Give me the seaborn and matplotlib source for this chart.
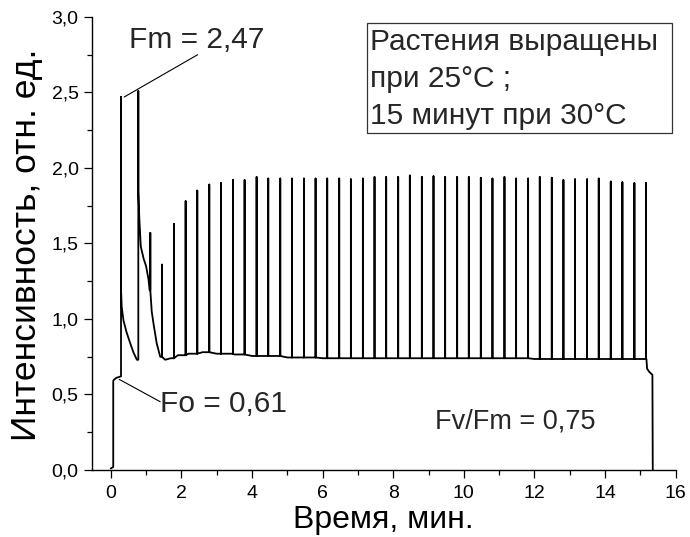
import numpy as np
import pandas as pd
import matplotlib
matplotlib.use("Agg")
import matplotlib.pyplot as plt
from matplotlib.patches import Rectangle
from matplotlib.ticker import MultipleLocator, FuncFormatter
import seaborn as sns

# Slow fluorescence baseline (time in min, relative intensity), with the two
# step changes where the first saturating flashes fall back onto the decay.
base_t = [0.00, 0.07, 0.07, 0.10, 0.16, 0.22, 0.29, 0.29, 0.31, 0.36, 0.45,
          0.55, 0.64, 0.74, 0.78, 0.78, 0.81, 0.85, 0.93, 1.00, 1.07, 1.10,
          1.16, 1.21, 1.30, 1.40, 1.54, 1.70, 1.90, 2.20, 2.60, 3.00, 3.50,
          4.00, 5.00, 6.00, 8.00, 10.00, 12.00, 14.00, 15.17, 15.19, 15.25,
          15.34, 15.35]
base_v = [0.01, 0.02, 0.59, 0.60, 0.61, 0.615, 0.62, 1.20, 1.08, 0.99, 0.91,
          0.84, 0.78, 0.73, 0.73, 1.85, 1.66, 1.48, 1.40, 1.35, 1.26, 1.19,
          1.05, 0.97, 0.84, 0.75, 0.73, 0.74, 0.76, 0.77, 0.78, 0.77, 0.765,
          0.755, 0.745, 0.74, 0.74, 0.74, 0.735, 0.735, 0.735, 0.67, 0.65,
          0.63, 0.00]

# Saturating flashes: times (min) and peak intensities
flash_t = [0.29, 0.78, 1.12, 1.45, 1.79, 2.12, 2.45, 2.79, 3.12, 3.46, 3.79,
           4.13, 4.46, 4.80, 5.13, 5.47, 5.80, 6.13, 6.47, 6.80, 7.14, 7.47,
           7.80, 8.14, 8.47, 8.81, 9.14, 9.47, 9.81, 10.14, 10.48, 10.81,
           11.15, 11.48, 11.82, 12.15, 12.49, 12.82, 13.15, 13.49, 13.82,
           14.16, 14.49, 14.83, 15.16]
flash_v = [2.47, 2.51, 1.57, 1.36, 1.63, 1.78, 1.85, 1.89, 1.90, 1.92, 1.92,
           1.94, 1.93, 1.93, 1.93, 1.93, 1.93, 1.93, 1.93, 1.925, 1.93, 1.94,
           1.94, 1.94, 1.95, 1.94, 1.945, 1.94, 1.94, 1.94, 1.935, 1.93, 1.94,
           1.93, 1.93, 1.94, 1.935, 1.92, 1.925, 1.925, 1.93, 1.91, 1.905,
           1.90, 1.90]

x_ticks = [0, 2, 4, 6, 8, 10, 12, 14, 16]
y_ticks = [0.0, 0.5, 1.0, 1.5, 2.0, 2.5, 3.0]

x_label = "Время, мин."
y_label = "Интенсивность, отн. ед."
fm_label = "Fm = 2,47"
fo_label = "Fo = 0,61"
ratio_label = "Fv/Fm = 0,75"
box_lines = ["Растения выращены", "при 25°C ;", "15 минут при 30°C"]

# Build one continuous trace: each flash is a vertical excursion from the
# last baseline level before it.
trace_t, trace_v = [], []
fi = 0
for i, (t, v) in enumerate(zip(base_t, base_v)):
    trace_t.append(t)
    trace_v.append(v)
    nxt = base_t[i + 1] if i + 1 < len(base_t) else np.inf
    while fi < len(flash_t) and t <= flash_t[fi] < nxt:
        trace_t += [flash_t[fi], flash_t[fi], flash_t[fi]]
        trace_v += [v, flash_v[fi], v]
        fi += 1
trace = pd.DataFrame({"t": trace_t, "v": trace_v})

sns.set_theme(style="ticks")
plt.rcParams["font.family"] = ["Liberation Sans", "DejaVu Sans"]

fig = plt.figure(figsize=(6.9, 5.37), dpi=100)
ax = fig.add_axes([0.1329, 0.1248, 0.8464, 0.8436])

sns.lineplot(data=trace, x="t", y="v", sort=False, estimator=None,
             color="black", linewidth=1.3, ax=ax)

ax.set_xlim(-0.54, 16.0)
ax.set_ylim(0.0, 3.0)
ax.set_xticks(x_ticks)
ax.set_yticks(y_ticks)
ax.xaxis.set_minor_locator(MultipleLocator(1))
ax.yaxis.set_minor_locator(MultipleLocator(0.25))
ax.xaxis.set_major_formatter(FuncFormatter(lambda x, p: f"{x:g}"))
ax.yaxis.set_major_formatter(FuncFormatter(lambda y, p: f"{y:.1f}".replace(".", ",")))
ax.tick_params(which="major", direction="out", length=6, width=0.9,
               labelsize=14, colors="black")
ax.tick_params(axis="x", which="major", pad=5)
ax.tick_params(axis="y", which="major", pad=3.5)
ax.tick_params(which="minor", direction="out", length=3.5, width=0.9,
               colors="black")
sns.despine(ax=ax)
for s in ("left", "bottom"):
    ax.spines[s].set_linewidth(1.0)
    ax.spines[s].set_color("black")
ax.grid(False)

ax.set_xlabel(x_label, fontsize=23, labelpad=2, color="black")
ax.set_ylabel(y_label, fontsize=25.5, color="black")
ax.yaxis.set_label_coords(-0.083, 0.497)

# Fm / Fo annotations with leader lines
ax.plot([0.38, 2.46], [2.47, 2.75], color="black", linewidth=0.8)
ax.text(0.53, 2.795, fm_label, fontsize=21.5, ha="left", va="baseline")
ax.plot([0.24, 1.40], [0.60, 0.452], color="black", linewidth=0.8)
ax.text(1.40, 0.386, fo_label, fontsize=21.5, ha="left", va="baseline")
ax.text(9.18, 0.276, ratio_label, fontsize=19.5, ha="left", va="baseline")

# Growth conditions box
ax.add_patch(Rectangle((7.27, 2.234), 15.89 - 7.27, 2.962 - 2.234,
                       fill=False, edgecolor="#333333", linewidth=0.9))
for y, line in zip([2.781, 2.534, 2.291], box_lines):
    ax.text(7.34, y, line, fontsize=21.5, ha="left", va="baseline")

fig.savefig("out.png", dpi=100)
